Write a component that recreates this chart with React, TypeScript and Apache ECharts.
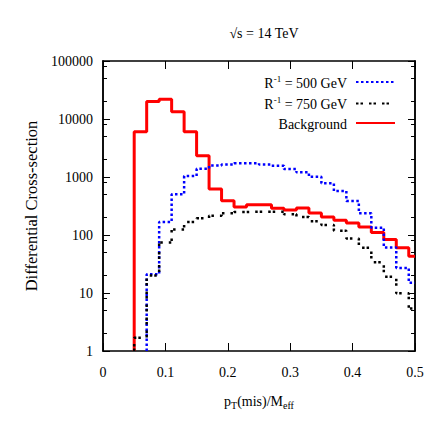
import React, { useEffect, useRef } from "react";
import * as echarts from "echarts";

// Bin edges (pT(mis)/Meff), shared by all histograms
const binEdges = [0.05, 0.07, 0.09, 0.11, 0.13, 0.15, 0.17, 0.19, 0.21, 0.23, 0.25, 0.27, 0.29, 0.31, 0.33, 0.35, 0.37, 0.39, 0.41, 0.43, 0.45, 0.47, 0.49, 0.5];

// Bin contents (null = empty bin, below axis)
const background = [6000, 20000, 22000, 13400, 6000, 2330, 620, 390, 304, 333, 333, 289, 270, 293, 240, 204, 179, 161, 137, 110, 84, 60, 43];
const r500 = [null, 21, 168, 503, 1040, 1390, 1580, 1640, 1720, 1720, 1640, 1570, 1373, 1205, 1012, 779, 574, 385, 237, 134, 61, 27, 15];
const r750 = [1.7, 20, 74, 125, 168, 194, 215, 237, 249, 252, 252, 252, 227, 205, 173, 149, 118, 87, 60, 34, 19, 9.9, 5.4];

const seriesNames = ["R-1 = 500 GeV", "R-1 = 750 GeV", "Background"];

const xTicks = [0, 0.1, 0.2, 0.3, 0.4, 0.5];
const yMajorTicks = [1, 10, 100, 1000, 10000, 100000];
const yMinorTicks = [2, 5, 8, 20, 50, 80, 200, 500, 800, 2000, 5000, 8000, 20000, 50000, 80000];

const Y_MIN = 1;
const Y_MAX = 100000;
const FONT = '"Liberation Serif", "DejaVu Serif", serif';

function histPoints(vals: (number | null)[]) {
  const pts: [number, number][] = [];
  let first = vals.findIndex((v) => v !== null);
  pts.push([binEdges[first], Y_MIN]);
  for (let i = first; i < vals.length; i++) {
    pts.push([binEdges[i], vals[i] as number]);
  }
  pts.push([binEdges[vals.length], vals[vals.length - 1] as number]);
  return pts;
}

export default function App() {
  const ref = useRef<HTMLDivElement>(null);
  useEffect(() => {
    if (!ref.current) return;
    const chart = echarts.init(ref.current, null, { renderer: "svg" });
    const axisLine = { show: true, lineStyle: { color: "#000", width: 1.5 } };
    const yBase = (position: string, ticks: number[], len: number, labels: boolean) => ({
      type: "log",
      logBase: 10,
      min: Y_MIN,
      max: Y_MAX,
      position,
      offset: 0,
      axisLine,
      splitLine: { show: false },
      axisTick: { show: true, inside: true, length: len, customValues: ticks, lineStyle: { color: "#000", width: 1 } },
      axisLabel: labels
        ? { show: true, customValues: ticks, margin: 10, fontFamily: FONT, fontSize: 14, color: "#000", formatter: (v: number) => String(v) }
        : { show: false },
    });
    const option: any = {
      animation: false,
      backgroundColor: "#fff",
      title: {
        text: "√s = 14 TeV",
        left: 259,
        top: 21,
        textAlign: "center",
        textStyle: { fontFamily: FONT, fontSize: 14, fontWeight: "normal", color: "#000" },
      },
      grid: { left: 103, right: 21, top: 61, bottom: 85, show: false },
      legend: {
        orient: "vertical",
        align: "right",
        right: 40,
        top: 74,
        padding: 0,
        itemWidth: 39,
        itemHeight: 14,
        itemGap: 5.5,
        data: seriesNames,
        itemStyle: { opacity: 0 },
        formatter: (name: string) =>
          name.startsWith("R-1") ? `{n|R}{s|-1}{n|${name.slice(3)}}` : `{n|${name}}`,
        textStyle: {
          padding: [0, 4, 0, 0],
          rich: {
            n: { fontFamily: FONT, fontSize: 14, color: "#000", lineHeight: 16, verticalAlign: "bottom" },
            s: { fontFamily: FONT, fontSize: 9, color: "#000", lineHeight: 9, verticalAlign: "top" },
          },
        },
      },
      xAxis: [
        {
          type: "value",
          min: 0,
          max: 0.5,
          interval: 0.1,
          position: "bottom",
          axisLine,
          splitLine: { show: false },
          axisTick: { show: true, inside: true, length: 8, lineStyle: { color: "#000" } },
          axisLabel: { show: true, customValues: xTicks, margin: 14, fontFamily: FONT, fontSize: 14, color: "#000" },
          name: "p{sub|T}(mis)/M{sub|eff}",
          nameLocation: "middle",
          nameGap: 42,
          nameTextStyle: {
            fontFamily: FONT,
            fontSize: 14,
            color: "#000",
            rich: {
              sub: { fontFamily: FONT, fontSize: 10, color: "#000", verticalAlign: "bottom", padding: [7, 0, 0, 0] },
            },
          },
        },
        {
          type: "value",
          min: 0,
          max: 0.5,
          interval: 0.1,
          position: "top",
          axisLine,
          splitLine: { show: false },
          axisTick: { show: true, inside: true, length: 8, lineStyle: { color: "#000" } },
          axisLabel: { show: false },
        },
      ],
      yAxis: [
        {
          ...yBase("left", yMajorTicks, 7, true),
          name: "Differential Cross-section",
          nameLocation: "middle",
          nameGap: 60,
          nameTextStyle: { fontFamily: FONT, fontSize: 16.5, color: "#000" },
        },
        yBase("left", yMinorTicks, 4, false),
        yBase("right", yMajorTicks, 7, false),
        yBase("right", yMinorTicks, 4, false),
      ],
      series: [
        {
          name: seriesNames[0],
          type: "line",
          step: "end",
          symbol: "none",
          xAxisIndex: 0,
          yAxisIndex: 0,
          data: histPoints(r500),
          lineStyle: { color: "#0000ff", width: 2.5, type: [2.5, 2.5] },
          itemStyle: { color: "#0000ff" },
          z: 3,
        },
        {
          name: seriesNames[1],
          type: "line",
          step: "end",
          symbol: "none",
          xAxisIndex: 0,
          yAxisIndex: 0,
          data: histPoints(r750),
          lineStyle: { color: "#000", width: 2.5, type: [2.5, 2, 2.5, 6] },
          itemStyle: { color: "#000" },
          z: 3,
        },
        {
          name: seriesNames[2],
          type: "line",
          step: "end",
          symbol: "none",
          xAxisIndex: 0,
          yAxisIndex: 0,
          data: histPoints(background),
          lineStyle: { color: "#ff0000", width: 3 },
          itemStyle: { color: "#ff0000" },
          z: 2,
        },
      ],
    };
    chart.setOption(option);
    return () => chart.dispose();
  }, []);
  return <div ref={ref} style={{ position: "fixed", left: 0, top: 0, width: 436, height: 436 }} />;
}
